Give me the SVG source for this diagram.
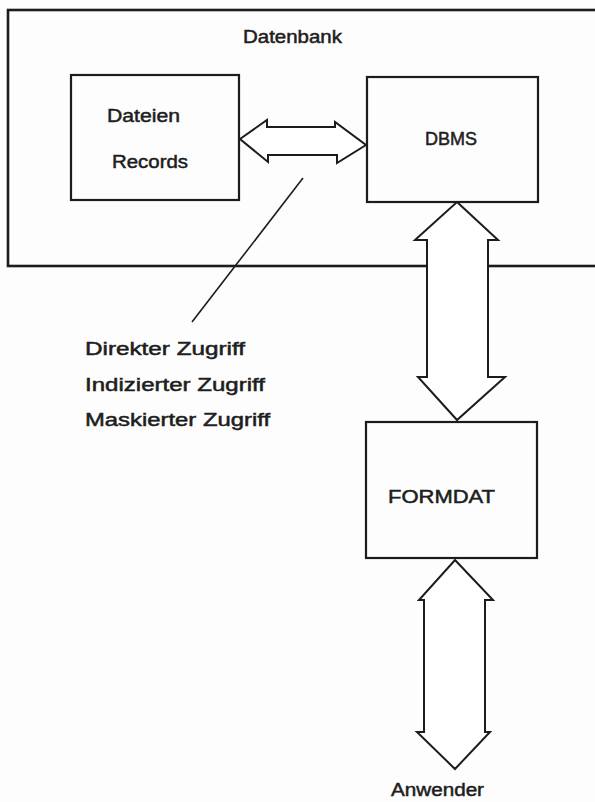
<svg xmlns="http://www.w3.org/2000/svg" width="595" height="802" viewBox="0 0 595 802">
  <style>
    .box { fill: none; stroke: #1c1c1c; stroke-width: 2.2; }
    .arrow { fill: #ffffff; stroke: #1c1c1c; stroke-width: 2; stroke-linejoin: miter; }
    .line { stroke: #1c1c1c; stroke-width: 1.6; fill: none; }
    .lbl { font-family: "Liberation Sans", "DejaVu Sans", sans-serif; font-size: 18px; fill: #1e1e1e; stroke: #1e1e1e; stroke-width: 0.5; }
  </style>
  <rect x="0" y="0" width="595" height="802" fill="#fdfdfd"/>

  <g id="datenbank">
    <rect class="box" x="8" y="10" width="600" height="256" style="stroke-width:2.6"/>
    <text class="lbl" x="243" y="43" textLength="99" lengthAdjust="spacingAndGlyphs">Datenbank</text>
  </g>

  <g id="dateien">
    <rect class="box" x="71" y="75" width="168" height="125"/>
    <text class="lbl" x="107" y="122" textLength="73" lengthAdjust="spacingAndGlyphs">Dateien</text>
    <text class="lbl" x="112" y="168" textLength="76" lengthAdjust="spacingAndGlyphs">Records</text>
  </g>

  <g id="dbms">
    <rect class="box" x="367" y="77" width="171" height="125"/>
    <text class="lbl" x="425" y="145" textLength="52" lengthAdjust="spacingAndGlyphs">DBMS</text>
  </g>

  <g id="formdat">
    <rect class="box" x="366" y="422" width="171" height="136"/>
    <text class="lbl" x="388" y="503" textLength="107" lengthAdjust="spacingAndGlyphs">FORMDAT</text>
  </g>

  <g id="zugriff">
    <text class="lbl" x="85" y="355" textLength="160" lengthAdjust="spacingAndGlyphs">Direkter Zugriff</text>
    <text class="lbl" x="85" y="391" textLength="180" lengthAdjust="spacingAndGlyphs">Indizierter Zugriff</text>
    <text class="lbl" x="85" y="426" textLength="185" lengthAdjust="spacingAndGlyphs">Maskierter Zugriff</text>
  </g>

  <g id="anwender">
    <text class="lbl" x="391" y="796" textLength="93" lengthAdjust="spacingAndGlyphs">Anwender</text>
  </g>

  <g id="connectors">
    <polygon class="arrow" points="240,139 267,120 267,127 335,127 335,122 366,145 337,163 337,155 268,155 268,162"/>
    <polygon class="arrow" points="457,202 498,240 488,240 488,377 505,377 457,420 418,377 427,377 427,240 415,240"/>
    <polygon class="arrow" points="455,560 493,600 485,600 485,732 490,732 455,769 417,732 424,732 424,600 419,600"/>
    <line class="line" x1="303" y1="178" x2="192" y2="322"/>
  </g>
</svg>
